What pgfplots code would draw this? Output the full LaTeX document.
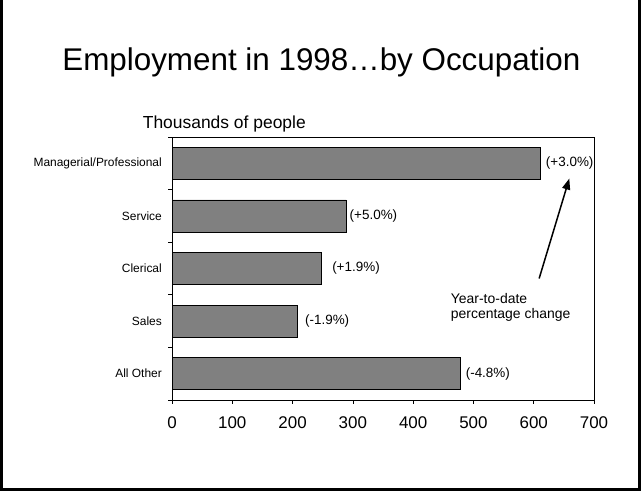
\documentclass[border=0pt]{standalone}
\usepackage{fontspec}
\setmainfont{Liberation Sans}
\usepackage{pgfplots}
\pgfplotsset{compat=1.18}
\usetikzlibrary{arrows.meta}
\definecolor{bargray}{RGB}{128,128,128}
\begin{document}
\begin{tikzpicture}[x=1bp,y=1bp]
\useasboundingbox (0,0) rectangle (641,491);
\fill[black] (0,0) rectangle (3.3,491);
\fill[black] (638,0) rectangle (641,491);
\fill[black] (0,0) rectangle (641,2.5);
\node[anchor=base, font=\fontsize{31.5}{36}\selectfont, inner sep=0pt] at (321.4,420) {Employment in 1998…by Occupation};
\node[anchor=base west, font=\fontsize{17.5}{20}\selectfont, inner sep=0pt] at (142.7,362.7) {Thousands of people};
\begin{axis}[
  at={(172bp,91bp)}, anchor=south west, scale only axis,
  width=422bp, height=263bp,
  xmin=0, xmax=700, ymin=-0.5, ymax=4.5, y dir=reverse,
  axis line style={black, line width=0.7bp},
  xtick={0,100,...,700}, xtick pos=bottom, ytick pos=left,
  tick align=outside, major tick length=4bp,
  tick style={black, line width=0.7bp},
  ytick={-0.5,0.5,1.5,2.5,3.5,4.5}, yticklabels={},
  extra y ticks={0,1,2,3,4},
  extra y tick labels={Managerial/Professional,Service,Clerical,Sales,All Other},
  extra y tick style={major tick length=0pt},
  yticklabel style={font=\fontsize{12}{14}\selectfont, inner sep=0pt, anchor=east, xshift=-10bp},
  xticklabel style={font=\fontsize{17}{20}\selectfont, inner sep=0pt, anchor=north, yshift=-12bp},
  /pgf/number format/assume math mode=true,
  clip=false,
]
\addplot[xbar, bar width=32bp, fill=bargray, draw=black, line width=0.6bp]
  coordinates {(611,0) (289,1) (248,2) (208,3) (478,4)};
\addplot[draw=none, mark=none, nodes near coords, point meta=explicit symbolic,
  nodes near coords style={anchor=west, inner sep=0pt, font=\fontsize{13.5}{15}\selectfont}]
  coordinates {(620,0) [{(+3.0\%)}] (294.5,1) [{(+5.0\%)}] (265.5,2) [{(+1.9\%)}] (220.5,3) [{(-1.9\%)}] (487,4) [{(-4.8\%)}]};
\draw[line width=1.5bp, -{Triangle[length=11bp,width=8bp]}] (axis cs:609,2.19) -- (axis cs:659,0.29);
\end{axis}
\node[anchor=base west, font=\fontsize{14}{16}\selectfont, inner sep=0pt] at (450.7,187.7) {Year-to-date};
\node[anchor=base west, font=\fontsize{14}{16}\selectfont, inner sep=0pt] at (450.7,172.5) {percentage change};
\end{tikzpicture}
\end{document}
